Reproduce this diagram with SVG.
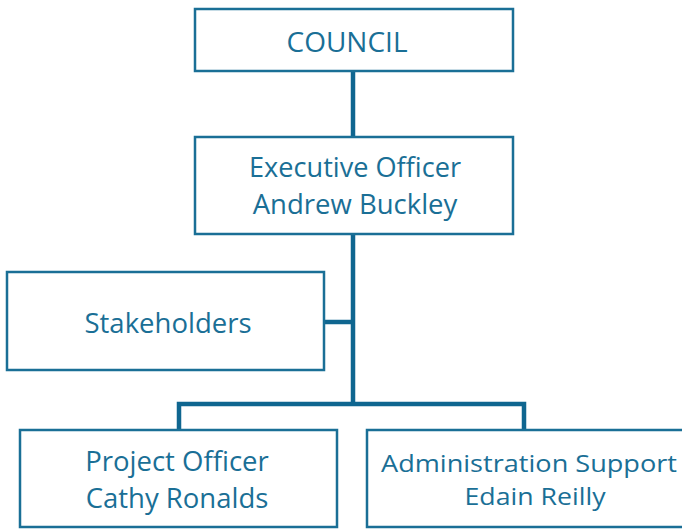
<svg xmlns="http://www.w3.org/2000/svg" width="682" height="529" viewBox="0 0 682 529">
<style>
.box{fill:#fff;stroke:#1a6f96;stroke-width:2.5}
.lbl{font-family:"Open Sans","Noto Sans",sans-serif;font-size:27.5px;fill:#1a6f96;text-anchor:middle}
.sm{font-size:24.5px}
.con{fill:none;stroke:#0f6690;stroke-width:4.5}
</style>
<rect width="682" height="529" fill="#fff"/>
<g id="connectors">
<line class="con" x1="353" y1="71" x2="353" y2="137"/>
<line class="con" x1="353" y1="234" x2="353" y2="404"/>
<line class="con" x1="324" y1="322" x2="353" y2="322"/>
<polyline class="con" points="179,430 179,404 524,404 524,430"/>
</g>
<g id="council">
<rect class="box" x="195" y="9" width="318" height="62"/>
<text class="lbl" x="347" y="52" textLength="121" lengthAdjust="spacingAndGlyphs">COUNCIL</text>
</g>
<g id="executive">
<rect class="box" x="195" y="137" width="318" height="97"/>
<text class="lbl" x="355" y="177" textLength="212" lengthAdjust="spacingAndGlyphs">Executive Officer</text>
<text class="lbl" x="355" y="214">Andrew Buckley</text>
</g>
<g id="stakeholders">
<rect class="box" x="7" y="272" width="317" height="98"/>
<text class="lbl" x="168" y="333">Stakeholders</text>
</g>
<g id="project">
<rect class="box" x="20" y="430" width="317" height="97"/>
<text class="lbl" x="177" y="471">Project Officer</text>
<text class="lbl" x="177" y="508">Cathy Ronalds</text>
</g>
<g id="admin">
<rect class="box" x="367" y="430" width="317" height="97"/>
<text class="lbl sm" x="529" y="472" textLength="296" lengthAdjust="spacingAndGlyphs">Administration Support</text>
<text class="lbl sm" x="535" y="505" textLength="141" lengthAdjust="spacingAndGlyphs">Edain Reilly</text>
</g>
</svg>
